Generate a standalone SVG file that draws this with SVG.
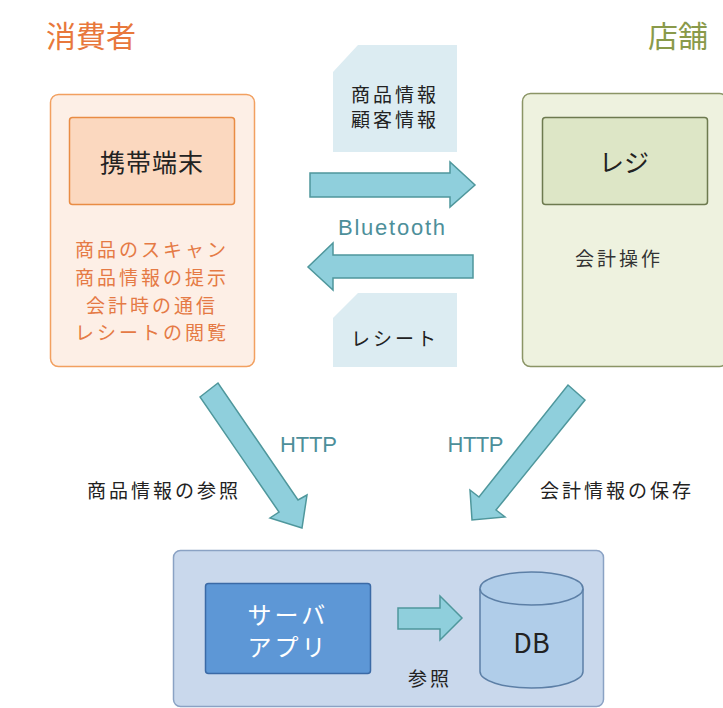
<svg xmlns="http://www.w3.org/2000/svg" width="723" height="708" viewBox="0 0 723 708">
<style>
  text { font-family: "Noto Sans CJK JP", "Noto Sans", "Liberation Sans", sans-serif; }
  .title { font-size: 30px; }
  .dark { fill: #222; }
  .item { font-size: 19px; fill: #e57a45; letter-spacing: 3px; }
  .lbl { font-size: 19px; fill: #222; letter-spacing: 3px; }
  .teal { font-family: "Liberation Sans", "Noto Sans", sans-serif; font-size: 22px; fill: #4d8f9a; }
  .arrow { fill: #8fcfdc; stroke: #4f979c; stroke-width: 1.5; stroke-linejoin: miter; }
  .doc { fill: #dcecf2; }
</style>
<rect width="723" height="708" fill="#ffffff"/>

<text class="title" x="46" y="47" fill="#e8783c">消費者</text>
<text class="title" x="708" y="47" fill="#8a9a4a" text-anchor="end">店舗</text>

<g id="consumer">
  <rect x="50.5" y="94.5" width="204" height="272" rx="8" fill="#fdefe6" stroke="#f2a060" stroke-width="1.5"/>
  <g id="mobile">
    <rect x="69.5" y="117.5" width="165" height="87" rx="3" fill="#fbd8bf" stroke="#e98c44" stroke-width="1.5"/>
    <text class="dark" x="152" y="172" font-size="25" text-anchor="middle" letter-spacing="1">携帯端末</text>
  </g>
  <text class="item" x="152" y="257" text-anchor="middle">商品のスキャン</text>
  <text class="item" x="152" y="285" text-anchor="middle">商品情報の提示</text>
  <text class="item" x="152" y="313" text-anchor="middle">会計時の通信</text>
  <text class="item" x="152" y="340" text-anchor="middle">レシートの閲覧</text>
</g>

<g id="store">
  <rect x="522.5" y="93.5" width="205" height="273" rx="8" fill="#eef2df" stroke="#8b9566" stroke-width="1.5"/>
  <g id="register">
    <rect x="542.5" y="117.5" width="165" height="87" rx="3" fill="#dde6c6" stroke="#6d7a4f" stroke-width="1.5"/>
    <text class="dark" x="624" y="172" font-size="25" text-anchor="middle">レジ</text>
  </g>
  <text x="619" y="266" font-size="19" fill="#333" text-anchor="middle" letter-spacing="3">会計操作</text>
</g>

<g id="doc-info">
  <path class="doc" d="M358,45 H457 V152 H333 V72 Z"/>
  <text class="lbl" x="395" y="102" text-anchor="middle" letter-spacing="2">商品情報</text>
  <text class="lbl" x="395" y="127" text-anchor="middle" letter-spacing="2">顧客情報</text>
</g>

<g id="doc-receipt">
  <path class="doc" d="M358,293 H457 V367 H333 V318 Z"/>
  <text class="lbl" x="395" y="346" text-anchor="middle" letter-spacing="2">レシート</text>
</g>

<g id="server">
  <rect x="173.5" y="550.5" width="430" height="156" rx="7" fill="#c9d8ec" stroke="#8aa2c4" stroke-width="1.5"/>
  <g id="app">
    <rect x="205.5" y="583.5" width="165" height="90" rx="3" fill="#5d97d6" stroke="#3b6aa6" stroke-width="1.5"/>
    <text x="288" y="624" font-size="24" fill="#ffffff" text-anchor="middle" letter-spacing="3">サーバ</text>
    <text x="288" y="656" font-size="24" fill="#ffffff" text-anchor="middle" letter-spacing="3">アプリ</text>
  </g>
  <g id="db">
    <path d="M480,588.5 V671.5 A51.5,16.5 0 0 0 583,671.5 V588.5" fill="#b0cde9" stroke="#5c7fa6" stroke-width="1.5"/>
    <ellipse cx="531.5" cy="588.5" rx="51.5" ry="16.5" fill="#b0cde9" stroke="#5c7fa6" stroke-width="1.5"/>
    <text x="531.5" y="653" font-family="Liberation Sans, sans-serif" font-size="27" fill="#222" text-anchor="middle">DB</text>
  </g>
  <text x="430" y="686" font-size="19" fill="#222" text-anchor="middle" letter-spacing="3">参照</text>
</g>

<g id="connectors">
  <polygon class="arrow" points="310,173 450,173 450,162 475,185 450,207 450,197 310,197"/>
  <polygon class="arrow" points="473,255 333,255 333,243 308,267 333,290 333,278 473,278"/>
  <polygon class="arrow" points="200,397 218,383 298,500 307,495 302,528 270,518 279,512"/>
  <polygon class="arrow" points="568,385 585,400 496,510 505,517 472,520 470,490 479,497"/>
  <polygon class="arrow" points="398,608 440,608 440,596 462,618 440,640 440,629 398,629"/>
  <text class="teal" x="391.5" y="235" text-anchor="middle" textLength="107" lengthAdjust="spacing">Bluetooth</text>
  <text class="teal" x="308.5" y="452" text-anchor="middle" textLength="57" lengthAdjust="spacing">HTTP</text>
  <text class="teal" x="475.5" y="452" text-anchor="middle" textLength="56" lengthAdjust="spacing">HTTP</text>
  <text class="lbl" x="87" y="498">商品情報の参照</text>
  <text class="lbl" x="540" y="498">会計情報の保存</text>
</g>
</svg>
